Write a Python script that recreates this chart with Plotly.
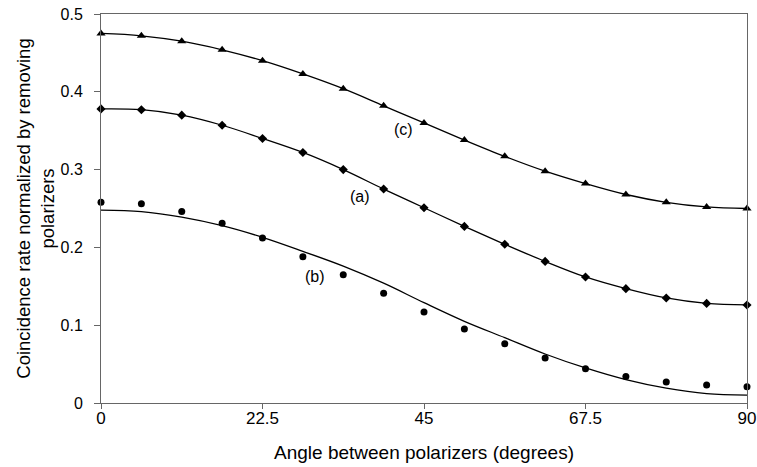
import plotly.graph_objects as go

angles = [0, 5.625, 11.25, 16.875, 22.5, 28.125, 33.75, 39.375, 45,
          50.625, 56.25, 61.875, 67.5, 73.125, 78.75, 84.375, 90]

c_points = [0.475, 0.472, 0.465, 0.454, 0.440, 0.423, 0.404, 0.382, 0.360,
            0.338, 0.317, 0.298, 0.282, 0.268, 0.258, 0.252, 0.250]
a_points = [0.378, 0.377, 0.370, 0.357, 0.340, 0.322, 0.300, 0.275, 0.251,
            0.227, 0.204, 0.182, 0.162, 0.147, 0.135, 0.128, 0.126]
b_points = [0.258, 0.256, 0.246, 0.231, 0.212, 0.188, 0.165, 0.141, 0.117,
            0.095, 0.076, 0.058, 0.044, 0.034, 0.027, 0.023, 0.021]
b_curve = [0.248, 0.246, 0.239, 0.228, 0.213, 0.195, 0.176, 0.154, 0.129,
           0.105, 0.084, 0.063, 0.045, 0.030, 0.019, 0.012, 0.010]

x_ticks = [0, 22.5, 45, 67.5, 90]
x_tick_labels = ["0", "22.5", "45", "67.5", "90"]
y_ticks = [0, 0.1, 0.2, 0.3, 0.4, 0.5]
y_tick_labels = ["0", "0.1", "0.2", "0.3", "0.4", "0.5"]

labels = ["(c)", "(a)", "(b)"]
label_x = [42.1, 36.1, 29.8]
label_y = [0.351, 0.265, 0.162]

FONT = "Liberation Sans, Arial, sans-serif"
fig = go.Figure()

line_style = dict(color="black", width=1.3, shape="spline", smoothing=1.0)
fig.add_trace(go.Scatter(x=angles, y=c_points, mode="lines+markers", line=line_style,
                         marker=dict(symbol="triangle-up", size=8, color="black"),
                         cliponaxis=False))
fig.add_trace(go.Scatter(x=angles, y=a_points, mode="lines+markers", line=line_style,
                         marker=dict(symbol="diamond", size=7, color="black"),
                         cliponaxis=False))
fig.add_trace(go.Scatter(x=angles, y=b_curve, mode="lines", line=line_style))
fig.add_trace(go.Scatter(x=angles, y=b_points, mode="markers",
                         marker=dict(symbol="circle", size=7, color="black"),
                         cliponaxis=False))

for t, xx, yy in zip(labels, label_x, label_y):
    fig.add_annotation(x=xx, y=yy, text=t, showarrow=False,
                       font=dict(family=FONT, size=16, color="black"))

fig.update_layout(
    width=757, height=467,
    margin=dict(l=101, r=10, t=14, b=64),
    paper_bgcolor="white", plot_bgcolor="white",
    showlegend=False,
    font=dict(family=FONT, color="black"),
)
fig.update_xaxes(range=[0, 90], tickvals=x_ticks, ticktext=x_tick_labels,
                 showgrid=False, zeroline=False, showline=True, linecolor="#666",
                 linewidth=1, mirror=True, ticks="outside", ticklen=5, tickcolor="#666",
                 ticklabelstandoff=-5,
                 tickfont=dict(size=17, family=FONT), automargin=False,
                 title=dict(text="Angle between polarizers (degrees)",
                            font=dict(size=19, family=FONT), standoff=18))
fig.update_yaxes(range=[0, 0.5], tickvals=y_ticks, ticktext=y_tick_labels,
                 showgrid=False, zeroline=False, showline=True, linecolor="#666",
                 linewidth=1, mirror=True, ticks="outside", ticklen=6, tickcolor="#666",
                 ticklabelstandoff=8,
                 tickfont=dict(size=16, family=FONT), automargin=False,
                 title=dict(text="Coincidence rate normalized by removing<br>polarizers",
                            font=dict(size=18.5, family=FONT), standoff=1))

fig.write_html("out.html", config={"displayModeBar": False},
               post_script="document.body.style.margin='0';document.body.style.overflow='hidden';")
